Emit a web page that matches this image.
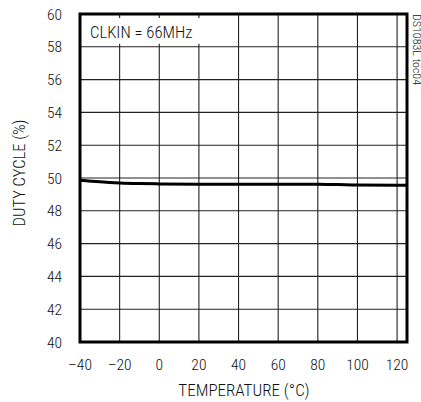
<!DOCTYPE html>
<html>
<head>
<meta charset="utf-8">
<script src="https://cdn.jsdelivr.net/npm/d3@7"></script>
<style>
  body { margin: 0; background: #fff; }
  text { font-family: "Roboto Condensed", "Liberation Sans", sans-serif; font-weight: 300; fill: #111; }
</style>
</head>
<body>
<div id="chart"></div>
<script>
const temps = [-40, -30, -20, -10, 0, 20, 40, 60, 80, 90, 100, 120, 125];
const duty = [49.87, 49.77, 49.7, 49.66, 49.64, 49.62, 49.62, 49.62, 49.62, 49.6, 49.57, 49.56, 49.56];
const xTicks = [-40, -20, 0, 20, 40, 60, 80, 100, 120];
const yTicks = [40, 42, 44, 46, 48, 50, 52, 54, 56, 58, 60];

const width = 421;
const height = 402;
const margin = { left: 80, right: 14, top: 14, bottom: 60 };

const svg = d3
  .select("#chart")
  .append("svg")
  .attr("width", width)
  .attr("height", height);

const x = d3
  .scaleLinear()
  .domain([-40, 125])
  .range([margin.left, width - margin.right]);

const y = d3
  .scaleLinear()
  .domain([40, 60])
  .range([height - margin.bottom, margin.top]);

// grid
svg
  .append("g")
  .selectAll("line")
  .data(xTicks.slice(1))
  .enter()
  .append("line")
  .attr("x1", (d) => x(d))
  .attr("x2", (d) => x(d))
  .attr("y1", y(40))
  .attr("y2", y(60))
  .attr("stroke", "#222")
  .attr("stroke-width", 1.1);

svg
  .append("g")
  .selectAll("line")
  .data(yTicks.slice(1, -1))
  .enter()
  .append("line")
  .attr("x1", x(-40))
  .attr("x2", x(125))
  .attr("y1", (d) => y(d))
  .attr("y2", (d) => y(d))
  .attr("stroke", "#222")
  .attr("stroke-width", 1.1);

// white box behind the label
svg
  .append("rect")
  .attr("x", x(-40) + 2)
  .attr("y", y(60) + 4)
  .attr("width", x(22) - x(-40))
  .attr("height", y(58) - y(60) - 7)
  .attr("fill", "#fff");

// curve
const line = d3
  .line()
  .x((d, i) => x(temps[i]))
  .y((d) => y(d))
  .curve(d3.curveMonotoneX);

svg
  .append("path")
  .datum(duty)
  .attr("d", line)
  .attr("fill", "none")
  .attr("stroke", "#000")
  .attr("stroke-width", 3);

// frame
svg
  .append("rect")
  .attr("x", x(-40))
  .attr("y", y(60))
  .attr("width", x(125) - x(-40))
  .attr("height", y(40) - y(60))
  .attr("fill", "none")
  .attr("stroke", "#000")
  .attr("stroke-width", 3);

// tick labels
svg
  .append("g")
  .selectAll("text")
  .data(yTicks)
  .enter()
  .append("text")
  .attr("x", margin.left - 18)
  .attr("y", (d) => y(d))
  .attr("dy", "0.36em")
  .attr("text-anchor", "end")
  .style("font-size", "15.5px")
  .text((d) => d);

svg
  .append("g")
  .selectAll("text")
  .data(xTicks)
  .enter()
  .append("text")
  .attr("x", (d) => x(d))
  .attr("y", y(40) + 28)
  .attr("text-anchor", "middle")
  .style("font-size", "15.5px")
  .text((d) => (d < 0 ? "\u2013" + Math.abs(d) : d));

// titles
svg
  .append("text")
  .attr("x", 244)
  .attr("y", 396)
  .attr("text-anchor", "middle")
  .style("font-size", "17px")
  .text("TEMPERATURE (\u00B0C)");

svg
  .append("text")
  .attr("transform", "translate(25, 173) rotate(-90)")
  .attr("text-anchor", "middle")
  .style("font-size", "16.5px")
  .text("DUTY CYCLE (%)");

svg
  .append("text")
  .attr("x", x(-40) + 10)
  .attr("y", 37.5)
  .style("font-size", "16.7px")
  .text("CLKIN = 66MHz");

svg
  .append("text")
  .attr("transform", "translate(412.5, 14) rotate(90)")
  .attr("text-anchor", "start")
  .attr("textLength", 71)
  .attr("lengthAdjust", "spacingAndGlyphs")
  .style("font-size", "10.5px")
  .text("DS1083L toc04");
</script>
</body>
</html>
